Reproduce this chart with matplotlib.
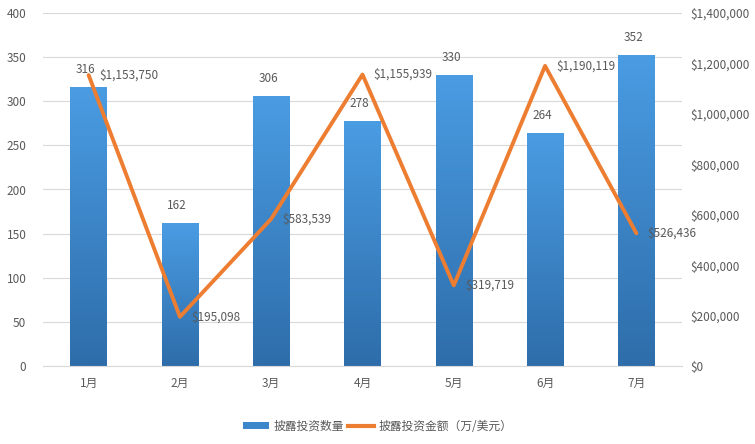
import matplotlib
matplotlib.use("Agg")
import matplotlib.pyplot as plt
import numpy as np
from matplotlib.ticker import FuncFormatter, MultipleLocator
from matplotlib.colors import LinearSegmentedColormap
from matplotlib.patches import Patch
from matplotlib.lines import Line2D

plt.rcParams['font.family'] = ['Noto Sans CJK SC', 'DejaVu Sans']

months = ['1月', '2月', '3月', '4月', '5月', '6月', '7月']
counts = [316, 162, 306, 278, 330, 264, 352]
amounts = [1153750, 195098, 583539, 1155939, 319719, 1190119, 526436]
bar_label = '披露投资数量'
line_label = '披露投资金额（万/美元）'

txt = '#595959'
fig = plt.figure(figsize=(7.55, 4.44), dpi=100)
ax = fig.add_axes([43/755, 1-366/444, (682-43)/755, (366-13)/444])
ax2 = ax.twinx()

x = np.arange(len(months))
bars = ax.bar(x, counts, width=0.4, color='none', zorder=2)
cmap = LinearSegmentedColormap.from_list('g', ['#2E6DAA', '#4A9CE3'])
grad = np.linspace(0, 1, 256).reshape(-1, 1)
for b in bars:
    x0, w, h = b.get_x(), b.get_width(), b.get_height()
    im = ax.imshow(grad, cmap=cmap, aspect='auto', origin='lower',
                   extent=[x0, x0 + w, 0, h], zorder=2)
    im.set_clip_path(b)
ax.set_xlim(-0.5, len(months) - 0.5)
ax.set_ylim(0, 400)
ax.yaxis.set_major_locator(MultipleLocator(50))
ax.set_xticks(x)
ax.set_xticklabels(months)
for xi, c in zip(x, counts):
    ax.annotate(str(c), (xi, c), xytext=(-2, 8), textcoords='offset points',
                ha='center', va='bottom', fontsize=8.5, color=txt, zorder=5)

ax2.plot(x, amounts, color='#ED7D31', lw=2.8, zorder=3, solid_capstyle='round')
ax2.set_ylim(0, 1400000)
ax2.yaxis.set_major_locator(MultipleLocator(200000))
ax2.yaxis.set_major_formatter(FuncFormatter(lambda v, p: '${:,.0f}'.format(v)))
for xi, a in zip(x, amounts):
    ax2.annotate('${:,.0f}'.format(a), (xi, a), xytext=(8, 0), textcoords='offset points',
                 ha='left', va='center', fontsize=8.5, color=txt, zorder=5)

ax.grid(axis='y', color='#D9D9D9', lw=0.8, zorder=0)
ax.set_axisbelow(True)
for a_ in (ax, ax2):
    for s in a_.spines.values():
        s.set_visible(False)
    a_.tick_params(length=0, colors=txt, labelsize=8.5)
ax.spines['bottom'].set_visible(True)
ax.spines['bottom'].set_color('#D9D9D9')
ax.tick_params(axis='y', pad=12)
ax.tick_params(axis='x', pad=8)
ax2.tick_params(axis='y', pad=6)

handles = [Patch(facecolor='#3C86CC', edgecolor='none'),
           Line2D([0], [0], color='#ED7D31', lw=3)]
fig.legend(handles, [bar_label, line_label], loc='center', bbox_to_anchor=(0.5, 1-426/444),
           ncol=2, frameon=False, fontsize=8.5, labelcolor=txt, handlelength=2.2,
           handleheight=0.5, columnspacing=0.3, handletextpad=0.4)

fig.savefig('out.png', dpi=100)
